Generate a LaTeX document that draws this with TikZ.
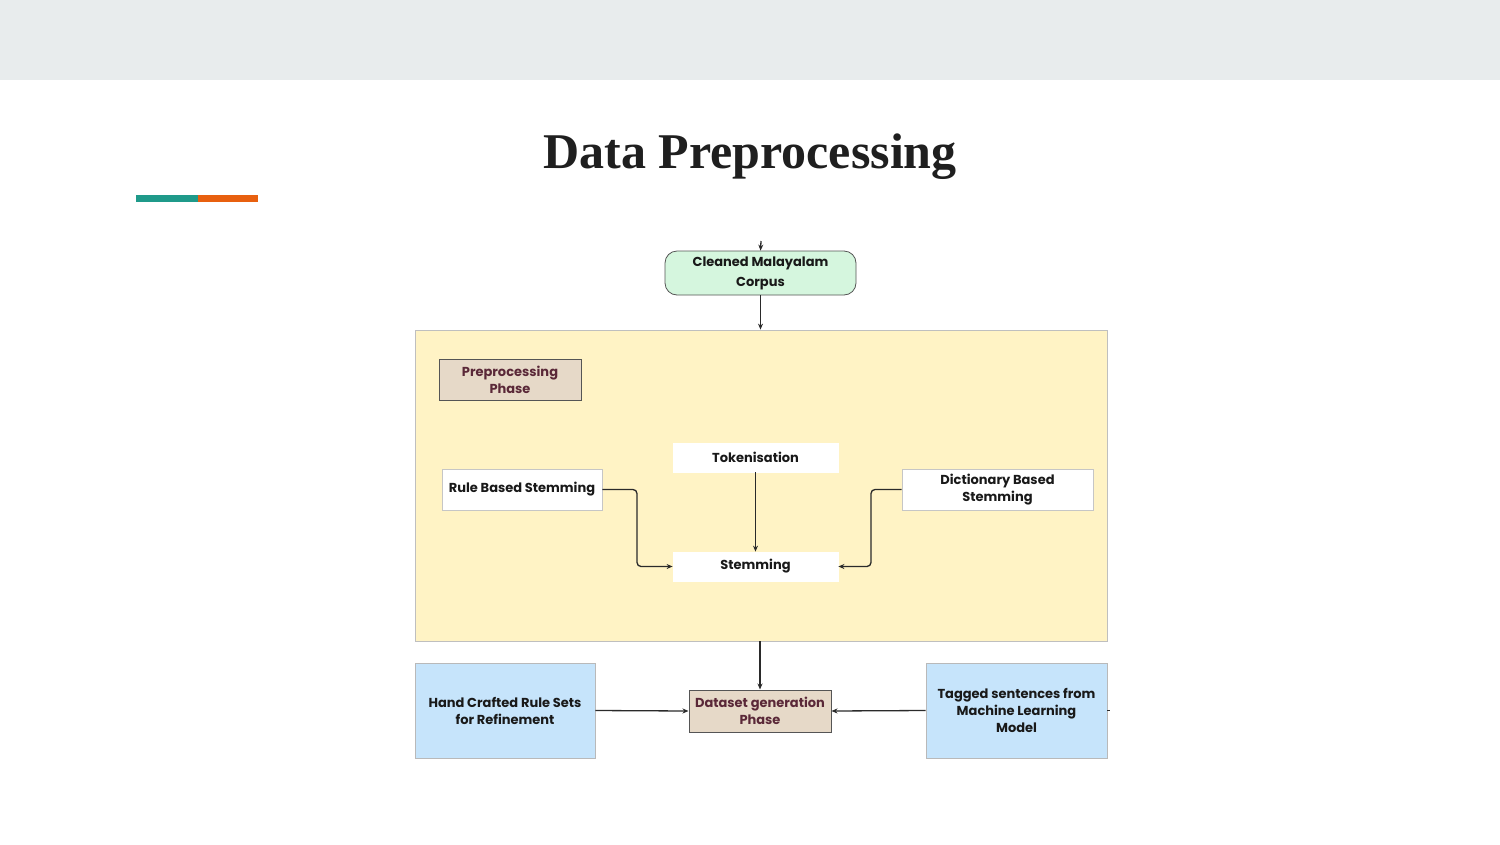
\documentclass[tikz,border=0pt]{standalone}
\usepackage{fontspec}
\setmainfont{Liberation Serif}
\setsansfont{Poppins}
\usetikzlibrary{arrows.meta}
\definecolor{bandgrey}{HTML}{E8ECED}
\definecolor{teal}{HTML}{1F9A8A}
\definecolor{orng}{HTML}{E8600F}
\definecolor{pyellow}{HTML}{FFF3C5}
\definecolor{pblue}{HTML}{C6E4FB}
\definecolor{pgreen}{HTML}{D5F6DE}
\definecolor{pbeige}{HTML}{E6D9C8}
\definecolor{maroon}{HTML}{5A2838}
\definecolor{linec}{HTML}{2A2A2A}
\tikzset{
  box/.style={draw=#1, line width=0.8pt, align=center, inner sep=2pt,
    font=\sffamily\fontsize{13}{17}\selectfont\bfseries, text=black!90},
  box/.default={gray!60},
  whitebox/.style={box=gray!45, fill=white},
  nobox/.style={box=white, fill=white},
  phasebox/.style={box=linec!80, fill=pbeige, text=maroon, line width=1pt},
  bluebox/.style={box=gray!55, fill=pblue},
  conn/.style={draw=linec, line width=1.3pt, -{Stealth[length=6pt,width=5pt]}},
}
\begin{document}
\begin{tikzpicture}[x=1pt,y=-1pt]
\useasboundingbox (0,0) rectangle (1500,844);
\fill[white] (0,0) rectangle (1500,844);
\fill[bandgrey] (0,0) rectangle (1500,80);
\node[font=\fontsize{50}{60}\selectfont\bfseries, text=black!88, anchor=base] (title) at (750,168) {Data Preprocessing};
\fill[teal] (136,195) rectangle (198,202);
\fill[orng] (198,195) rectangle (258,202);

\node[draw=gray!50, line width=0.8pt, fill=pyellow, minimum width=692pt, minimum height=311pt, inner sep=0pt] (yel) at (761,485.5) {};

\node[box=linec!80, fill=pgreen, rounded corners=12pt, minimum width=191pt, minimum height=44pt, font=\sffamily\fontsize{13}{20}\selectfont\bfseries] (corpus) at (760.5,273) {Cleaned Malayalam\\Corpus};
\coordinate (in) at (761,241);

\node[phasebox, minimum width=142pt, minimum height=41pt] (pre) at (510,379.5) {Preprocessing\\Phase};
\node[nobox, minimum width=165pt, minimum height=29pt] (tok) at (755.5,457.5) {Tokenisation};
\node[whitebox, minimum width=160pt, minimum height=41pt] (rule) at (522,489.5) {Rule Based Stemming};
\node[whitebox, minimum width=191pt, minimum height=41pt] (dict) at (997.5,489.5) {Dictionary Based\\Stemming};
\node[nobox, minimum width=165pt, minimum height=29pt] (stem) at (755.5,566.5) {Stemming};

\node[phasebox, minimum width=142pt, minimum height=42pt] (data) at (760,711) {Dataset generation\\Phase};
\node[bluebox, minimum width=180pt, minimum height=95pt] (hand) at (505,710.5) {Hand Crafted Rule Sets\\for Refinement};
\node[bluebox, minimum width=181pt, minimum height=95pt] (tag) at (1016.5,710.5) {Tagged sentences from\\Machine Learning\\Model};
\coordinate (stub) at (1110,710.5);

\draw[conn] (in) -- (corpus.north);
\draw[conn] (corpus.south) -- (yel.north -| corpus.south);
\draw[conn] (tok.south) -- (stem.north);
\draw[conn, rounded corners=4pt] (rule.east) -- (637,489.5) |- (stem.west);
\draw[conn, rounded corners=4pt] (dict.west) -- (871,489.5) |- (stem.east);
\draw[conn] (yel.south -| data.north) -- (data.north);
\draw[conn] (hand.east) -- (data.west);
\draw[conn] (tag.west) -- (data.east);
\draw[draw=linec, line width=1pt] (tag.east) -- (stub);
\end{tikzpicture}
\end{document}
